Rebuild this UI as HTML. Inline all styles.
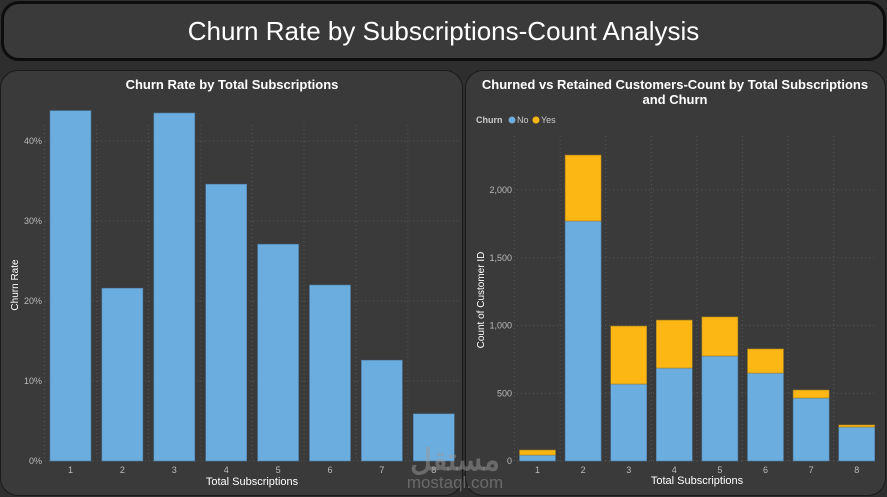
<!DOCTYPE html>
<html><head><meta charset="utf-8"><style>
body{margin:0;width:887px;height:497px;background:#2e2e2e;font-family:"Liberation Sans",sans-serif;overflow:hidden;position:relative}
.hdr{position:absolute;left:1px;top:1px;width:879px;height:54px;border:3px solid #0d0d0d;border-radius:18px;background:#3a3a3a;color:#fff;font-size:26px;text-align:center;line-height:54px}
.panel{position:absolute;top:70px;height:424px;border:1px solid #1a1a1a;border-radius:18px;background:#3a3a3a}
svg{position:absolute;left:0;top:0}
text{font-family:"Liberation Sans",sans-serif}
</style></head><body>
<div class="hdr">Churn Rate by Subscriptions-Count Analysis</div>
<div class="panel" style="left:0;width:461px"></div>
<div class="panel" style="left:465px;width:419px"></div>
<svg id="c" width="887" height="497"></svg>
<script>
const cats=["1","2","3","4","5","6","7","8"];
const rates=[43.8,21.6,43.5,34.6,27.1,22.0,12.6,5.9];
const rateTicks=[0,10,20,30,40];
const noVals=[44,1771,568,686,775,649,465,251];
const yesVals=[37,487,428,354,288,178,59,15];
const countTicks=[0,500,1000,1500,2000];
const NS="http://www.w3.org/2000/svg";
const svg=document.getElementById('c');
function mk(tag,attrs,txt){const e=document.createElementNS(NS,tag);for(const k in attrs)e.setAttribute(k,attrs[k]);if(txt!==undefined)e.textContent=txt;svg.appendChild(e);return e;}
// Left chart
const lx=i=>70.5+51.9*i, ly=v=>461-v*8;
for(let i=0;i<cats.length;i++){const g=mk('line',{x1:lx(i)-26,x2:lx(i)-26,y1:125,y2:461,stroke:'#555','stroke-dasharray':'1,3'});}
rateTicks.forEach(t=>{const g=mk('line',{x1:45,x2:458,y1:ly(t),y2:ly(t),stroke:'#555','stroke-dasharray':'1,3'});
const l=mk('text',{x:42,y:ly(t)+3,'text-anchor':'end','font-size':9,fill:'#bbb'},t+'%');});
rates.forEach((v,i)=>{const b=mk('rect',{x:lx(i)-20.5,y:ly(v),width:41,height:461-ly(v),fill:'#6caddf',stroke:'#4a7aa0','stroke-width':0.6});
const l=mk('text',{x:lx(i),y:473,'text-anchor':'middle','font-size':9,fill:'#bbb'},cats[i]);});
let t1=mk('text',{x:232,y:89,'text-anchor':'middle','font-size':13,'font-weight':'bold',fill:'#fff'},'Churn Rate by Total Subscriptions');
let ax=mk('text',{x:252,y:485,'text-anchor':'middle','font-size':11,fill:'#fff'},'Total Subscriptions');
let ay=mk('text',{x:18,y:285,'text-anchor':'middle','font-size':10,fill:'#fff',transform:'rotate(-90 18 285)'},'Churn Rate');
// Right chart
const rx=i=>537.5+45.6*i, ry=v=>461-v*0.1355;
for(let i=0;i<cats.length;i++){const g=mk('line',{x1:rx(i)-23,x2:rx(i)-23,y1:136,y2:461,stroke:'#555','stroke-dasharray':'1,3'});}
countTicks.forEach(t=>{const g=mk('line',{x1:517,x2:874,y1:ry(t),y2:ry(t),stroke:'#555','stroke-dasharray':'1,3'});
const l=mk('text',{x:512,y:ry(t)+3,'text-anchor':'end','font-size':9,fill:'#bbb'},t.toLocaleString('en-US'));});
noVals.forEach((v,i)=>{const b=mk('rect',{x:rx(i)-18,y:ry(v),width:36,height:461-ry(v),fill:'#6caddf',stroke:'#4a7aa0','stroke-width':0.6});
const y=yesVals[i];const c=mk('rect',{x:rx(i)-18,y:ry(v+y),width:36,height:ry(v)-ry(v+y),fill:'#fdb714',stroke:'#a07a20','stroke-width':0.6});
const l=mk('text',{x:rx(i),y:473,'text-anchor':'middle','font-size':9,fill:'#bbb'},cats[i]);});
let t2=mk('text',{x:675,y:89,'text-anchor':'middle','font-size':13,'font-weight':'bold',fill:'#fff'},'Churned vs Retained Customers-Count by Total Subscriptions');
let t3=mk('text',{x:675,y:104,'text-anchor':'middle','font-size':13,'font-weight':'bold',fill:'#fff'},'and Churn');
let lg=mk('text',{x:476,y:123,'font-size':9,fill:'#ccc','font-weight':'bold'},'Churn');
let d1=mk('circle',{cx:512,cy:120,r:3.5,fill:'#6caddf'});
let l1=mk('text',{x:517,y:123,'font-size':9,fill:'#ccc'},'No');
let d2=mk('circle',{cx:536,cy:120,r:3.5,fill:'#fdb714'});
let l2=mk('text',{x:541,y:123,'font-size':9,fill:'#ccc'},'Yes');
let ax2=mk('text',{x:697,y:484,'text-anchor':'middle','font-size':11,fill:'#fff'},'Total Subscriptions');
let ay2=mk('text',{x:484,y:300,'text-anchor':'middle','font-size':10,fill:'#fff',transform:'rotate(-90 484 300)'},'Count of Customer ID');
let wa=mk('text',{x:455,y:470,'text-anchor':'middle','font-size':30,'font-weight':'bold',fill:'#999','fill-opacity':0.5,'font-family':'"Liberation Sans","Noto Sans CJK SC",sans-serif'},'مستقل');
let wm=mk('text',{x:455,y:488,'text-anchor':'middle','font-size':17,fill:'#999','fill-opacity':0.5},'mostaql.com');
</script>
</body></html>
